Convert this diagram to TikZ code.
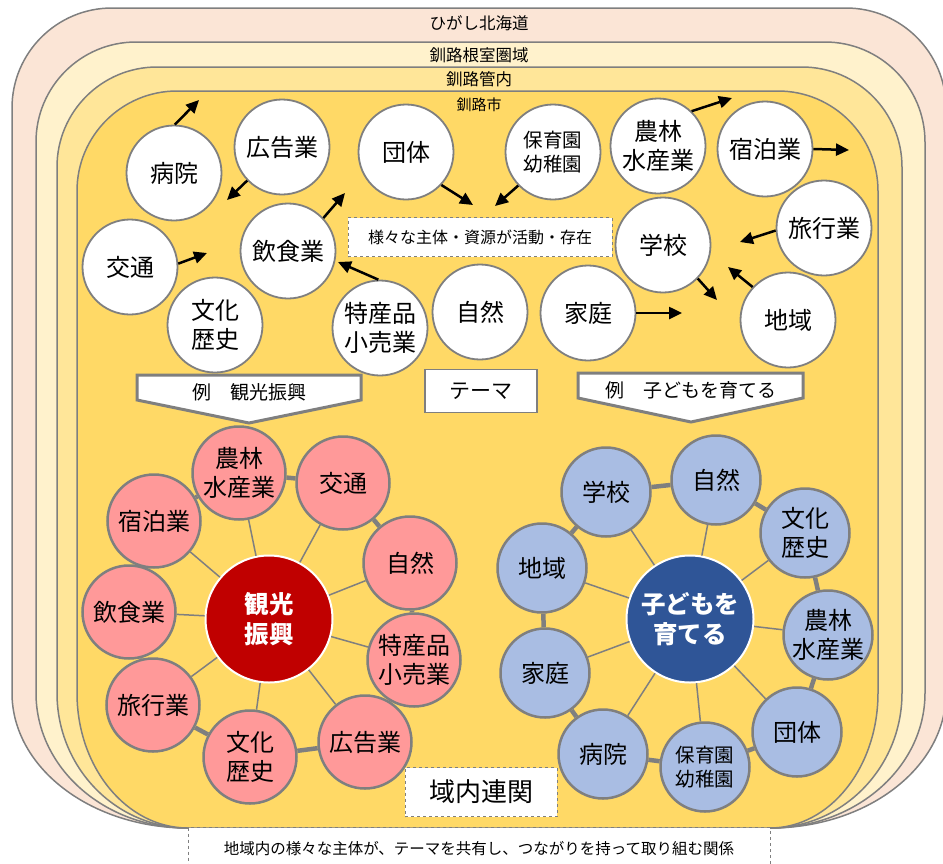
\documentclass[tikz,border=0pt]{standalone}
\usepackage{fontspec}
\setmainfont{Noto Sans CJK JP}
\usetikzlibrary{arrows.meta}
\definecolor{linegray}{HTML}{7F7F7F}
\definecolor{areaA}{HTML}{FBE5D6}
\definecolor{areaB}{HTML}{FFF2CC}
\definecolor{areaC}{HTML}{FFE699}
\definecolor{areaD}{HTML}{FFD966}
\definecolor{kkpink}{HTML}{FF9999}
\definecolor{kkred}{HTML}{C00000}
\definecolor{kdblue}{HTML}{A9BDE3}
\definecolor{kdnavy}{HTML}{2F5597}
\begin{document}
\begin{tikzpicture}
  [x=1pt,y=-1pt,
   bubble/.style={circle,draw=linegray,line width=1.8pt,fill=white,minimum size=95pt,inner sep=0pt,align=center,font=\fontsize{24}{29}\selectfont},
   small/.style={font=\fontsize{19.5}{24}\selectfont},
   kksat/.style={bubble,fill=kkpink,line width=2.5pt,minimum size=93pt},
   kdsat/.style={bubble,fill=kdblue,line width=2.5pt,minimum size=89pt},
   hub/.style={circle,draw=white,line width=2pt,minimum size=127pt,inner sep=0pt,align=center,text=white,font=\bfseries\fontsize{24.5}{30}\selectfont},
   arr/.style={-{Triangle[length=13pt,width=12pt]},line width=2.5pt},
   spoke/.style={draw=linegray,line width=1.5pt},
   ring/.style={draw=linegray,line width=4.5pt},
   dashbox/.style={draw=linegray,dashed,line width=1pt,fill=white,inner sep=0pt},
   banner/.style={draw=linegray,line width=3pt,fill=white},
   area/.style={font=\fontsize{16.5}{19}\selectfont}]
  \useasboundingbox (0,0) rectangle (943,863);
  % nested areas
  \foreach \xl/\xr/\yt/\col in {12/946/8/areaA,36/925/42/areaB,57/902/67/areaC,77/878/91/areaD}
    \filldraw[draw=linegray,line width=1.5pt,fill=\col] (\xl,693) -- (\xl,\yt+100)
      arc[start angle=180,end angle=270,radius=100] -- (\xr-100,\yt)
      arc[start angle=270,end angle=360,radius=100] -- (\xr,693)
      arc[start angle=0,end angle=90,x radius=\xr-770,y radius=135] -- (188,828)
      arc[start angle=90,end angle=180,x radius=188-\xl,y radius=135] -- cycle;
  \node[area] (hokkaido) at (479,23) {ひがし北海道};
  \node[area] (nemuro) at (479,55) {釧路根室圏域};
  \node[area] (kannai) at (479,79) {釧路管内};
  \node[font=\fontsize{15}{17}\selectfont] (shi) at (479,105) {釧路市};
  % city actors
  \node[bubble] (byoin) at (174,173) {病院};
  \node[bubble] (kokoku) at (282,147) {広告業};
  \node[bubble] (dantai) at (406,152) {団体};
  \node[bubble,small] (hoiku) at (553,152) {保育園\\幼稚園};
  \node[bubble] (norin) at (658,146) {農林\\水産業};
  \node[bubble] (shukuhaku) at (765,149) {宿泊業};
  \node[bubble] (kotsu) at (130,267) {交通};
  \node[bubble] (inshoku) at (288,251) {飲食業};
  \node[bubble] (bunka) at (215,325) {文化\\歴史};
  \node[bubble] (tokusan) at (380,328) {特産品\\小売業};
  \node[bubble] (shizen) at (480,312) {自然};
  \node[bubble] (katei) at (588,313) {家庭};
  \node[bubble] (gakko) at (663,245) {学校};
  \node[bubble] (ryoko) at (824,228) {旅行業};
  \node[bubble] (chiiki) at (788,320) {地域};
  \node[dashbox,minimum width=264pt,minimum height=39pt,font=\fontsize{16}{19}\selectfont] (katsudo) at (480,237) {様々な主体・資源が活動・存在};
  % free arrow ends
  \coordinate (e1) at (199,100);
  \coordinate (e2) at (227,200);
  \coordinate (e3) at (345,193);
  \coordinate (e4) at (207,253);
  \coordinate (e5) at (338,262);
  \coordinate (e6) at (473,205);
  \coordinate (e7) at (495,206);
  \coordinate (e8) at (732,98);
  \coordinate (e9) at (849,150);
  \coordinate (e10) at (740,242);
  \coordinate (e11) at (717,300);
  \coordinate (e12) at (728,267);
  \coordinate (e13) at (682,313);
  \foreach \from/\to in {byoin.89/e1,kokoku.224/e2,inshoku.43/e3,kotsu.4/e4,tokusan.92/e5,
      dantai.317/e6,hoiku.224/e7,norin.46/e8,shukuhaku.0/e9,ryoko.183/e10,gakko.316/e11,
      chiiki.137/e12,katei.0/e13}
    \draw[arr] (\from) -- (\to);
  % theme and examples
  \node[draw=linegray,line width=1.5pt,fill=white,minimum width=112pt,minimum height=43pt,font=\fontsize{21}{24}\selectfont] (theme) at (481,391) {テーマ};
  \draw[banner] (137,375) -- (361,375) -- (361,400) -- (249,423) -- (137,400) -- cycle;
  \node[font=\fontsize{19}{22}\selectfont] (exkanko) at (249,392) {例　観光振興};
  \draw[banner] (578,373) -- (803,373) -- (803,398) -- (691,422) -- (578,398) -- cycle;
  \node[font=\fontsize{19}{22}\selectfont] (exkodomo) at (691,390) {例　子どもを育てる};
  % tourism
  \node[hub,fill=kkred] (kkhub) at (269,619) {観光\\振興};
  \node[kksat] (kknorin) at (239,473) {農林\\水産業};
  \node[kksat] (kkkotsu) at (343,483) {交通};
  \node[kksat] (kkshizen) at (410,563) {自然};
  \node[kksat] (kktokusan) at (414,660) {特産品\\小売業};
  \node[kksat] (kkkokoku) at (365,742) {広告業};
  \node[kksat] (kkbunka) at (250,757) {文化\\歴史};
  \node[kksat] (kkryoko) at (153,705) {旅行業};
  \node[kksat] (kkinshoku) at (129,612) {飲食業};
  \node[kksat] (kkshukuhaku) at (154,521) {宿泊業};
  \foreach \s in {kknorin,kkkotsu,kkshizen,kktokusan,kkkokoku,kkbunka,kkryoko,kkinshoku,kkshukuhaku}
    \draw[spoke] (kkhub) -- (\s);
  \foreach \from/\to in {kknorin/kkkotsu,kkkotsu/kkshizen,kkshizen/kktokusan,kktokusan/kkkokoku,
      kkkokoku/kkbunka,kkbunka/kkryoko,kkryoko/kkinshoku,kkinshoku/kkshukuhaku,kkshukuhaku/kknorin}
    \draw[ring] (\from) -- (\to);
  % raising children
  \node[hub,fill=kdnavy] (kdhub) at (690,619) {子どもを\\育てる};
  \node[kdsat] (kdgakko) at (606,492) {学校};
  \node[kdsat] (kdshizen) at (716,480) {自然};
  \node[kdsat] (kdbunka) at (805,533) {文化\\歴史};
  \node[kdsat] (kdnorin) at (828,635) {農林\\水産業};
  \node[kdsat] (kddantai) at (797,732) {団体};
  \node[kdsat,small] (kdhoiku) at (705,767) {保育園\\幼稚園};
  \node[kdsat] (kdbyoin) at (603,754) {病院};
  \node[kdsat] (kdkatei) at (545,673) {家庭};
  \node[kdsat] (kdchiiki) at (542,568) {地域};
  \foreach \s in {kdgakko,kdshizen,kdbunka,kdnorin,kddantai,kdhoiku,kdbyoin,kdkatei,kdchiiki}
    \draw[spoke] (kdhub) -- (\s);
  \foreach \from/\to in {kdgakko/kdshizen,kdshizen/kdbunka,kdbunka/kdnorin,kdnorin/kddantai,
      kddantai/kdhoiku,kdhoiku/kdbyoin,kdbyoin/kdkatei,kdkatei/kdchiiki,kdchiiki/kdgakko}
    \draw[ring] (\from) -- (\to);
  % linkage
  \node[dashbox,minimum width=152pt,minimum height=49pt,font=\fontsize{26}{30}\selectfont] (renkan) at (481,792) {域内連関};
  \node[dashbox,anchor=north,minimum width=582pt,minimum height=42pt,font=\fontsize{15.5}{18}\selectfont] (kankei) at (479,827) {地域内の様々な主体が、テーマを共有し、つながりを持って取り組む関係};
\end{tikzpicture}
\end{document}
